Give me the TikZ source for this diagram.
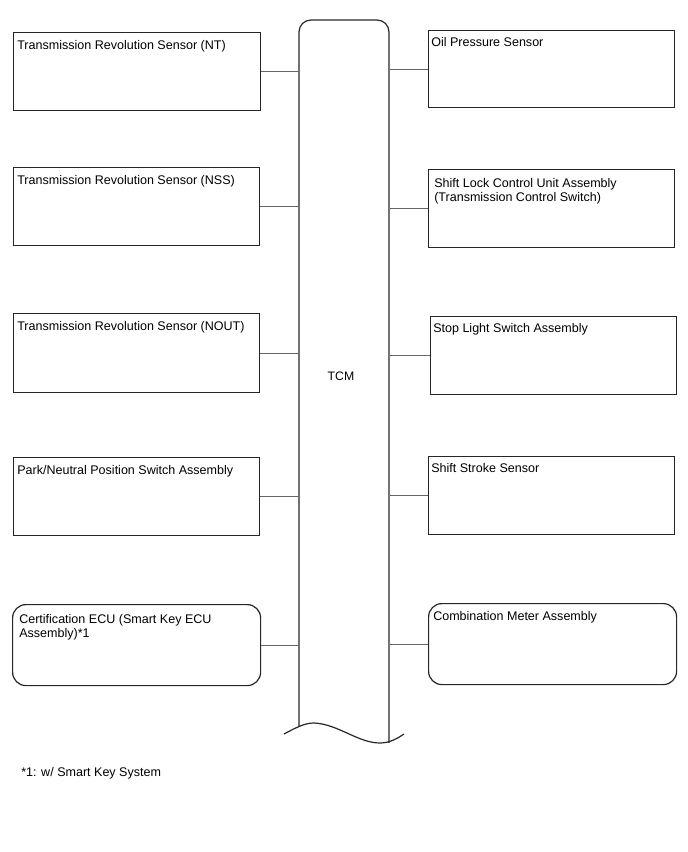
\documentclass[tikz,border=0pt]{standalone}
\usepackage{fontspec}
\setmainfont{Liberation Sans}
\begin{document}
\begin{tikzpicture}[x=0.75pt,y=-0.75pt,
  bx/.style 2 args={draw=black!85, line width=0.9pt, minimum width=#1*0.75pt, minimum height=#2*0.75pt, anchor=north west, inner sep=0pt},
  rbx/.style 2 args={bx={#1}{#2}, rounded corners=10pt},
  txt/.style={anchor=north west, inner sep=0pt, align=left, font=\fontsize{9.4}{10.5}\selectfont},
  conn/.style={draw=black!60, line width=0.7pt}]
\useasboundingbox (0,0) rectangle (688,852);
% TCM
\node[inner sep=0pt, minimum width=90*0.75pt, minimum height=715*0.75pt, anchor=north west] (tcm) at (299,20) {};
\draw[black!85, line width=0.9pt] (299,726) -- (299,32) arc[start angle=180, end angle=90, radius=12*0.75pt] -- (377,20) arc[start angle=90, end angle=0, radius=12*0.75pt] -- (389,743);
\draw[black!85, line width=0.9pt] (284,734) .. controls (297,727) and (305,723) .. (314,723) .. controls (338,724) and (358,743) .. (380,743) .. controls (390,743) and (398,738) .. (404,734);
\node[font=\fontsize{9.2}{10.5}\selectfont] (tcmlbl) at (341,376) {TCM};
% left boxes
\node[bx={247}{78}] (l1) at (13,32) {};
\node[bx={246}{78}] (l2) at (13,167) {};
\node[bx={246}{79}] (l3) at (13,313) {};
\node[bx={246}{78}] (l4) at (13,457) {};
\node[rbx={248}{81}] (l5) at (12,604) {};
% right boxes
\node[bx={246}{77}] (r1) at (428,30) {};
\node[bx={246}{78}] (r2) at (428,169) {};
\node[bx={246}{78}] (r3) at (430,316) {};
\node[bx={246}{78}] (r4) at (428,456) {};
\node[rbx={248}{81}] (r5) at (428,603) {};
% texts
\node[txt] (t1) at ([shift={(4,8)}]l1.north west) {Transmission Revolution Sensor (NT)};
\node[txt] (t2) at ([shift={(4,8)}]l2.north west) {Transmission Revolution Sensor (NSS)};
\node[txt] (t3) at ([shift={(4,8)}]l3.north west) {Transmission Revolution Sensor (NOUT)};
\node[txt] (t4) at ([shift={(4,8)}]l4.north west) {Park/Neutral Position Switch Assembly};
\node[txt] (t5) at ([shift={(7,10)}]l5.north west) {Certification ECU (Smart Key ECU\\Assembly)*1};
\node[txt] (u1) at ([shift={(3,7)}]r1.north west) {Oil Pressure Sensor};
\node[txt] (u2) at ([shift={(6,9)}]r2.north west) {Shift Lock Control Unit Assembly\\(Transmission Control Switch)};
\node[txt] (u3) at ([shift={(3,7)}]r3.north west) {Stop Light Switch Assembly};
\node[txt] (u4) at ([shift={(3,7)}]r4.north west) {Shift Stroke Sensor};
\node[txt] (u5) at ([shift={(5,8)}]r5.north west) {Combination Meter Assembly};
% connectors
\foreach \b in {l1,l2,l3,l4,l5}{\draw[conn] (\b.east) -- (\b.east -| tcm.west);}
\foreach \b in {r1,r2,r3,r4,r5}{\draw[conn] (\b.west) -- (\b.west -| tcm.east);}
% footnote
\node[txt, anchor=base west] (fn) at (21,776) {*1: w/ Smart Key System};
\end{tikzpicture}
\end{document}
